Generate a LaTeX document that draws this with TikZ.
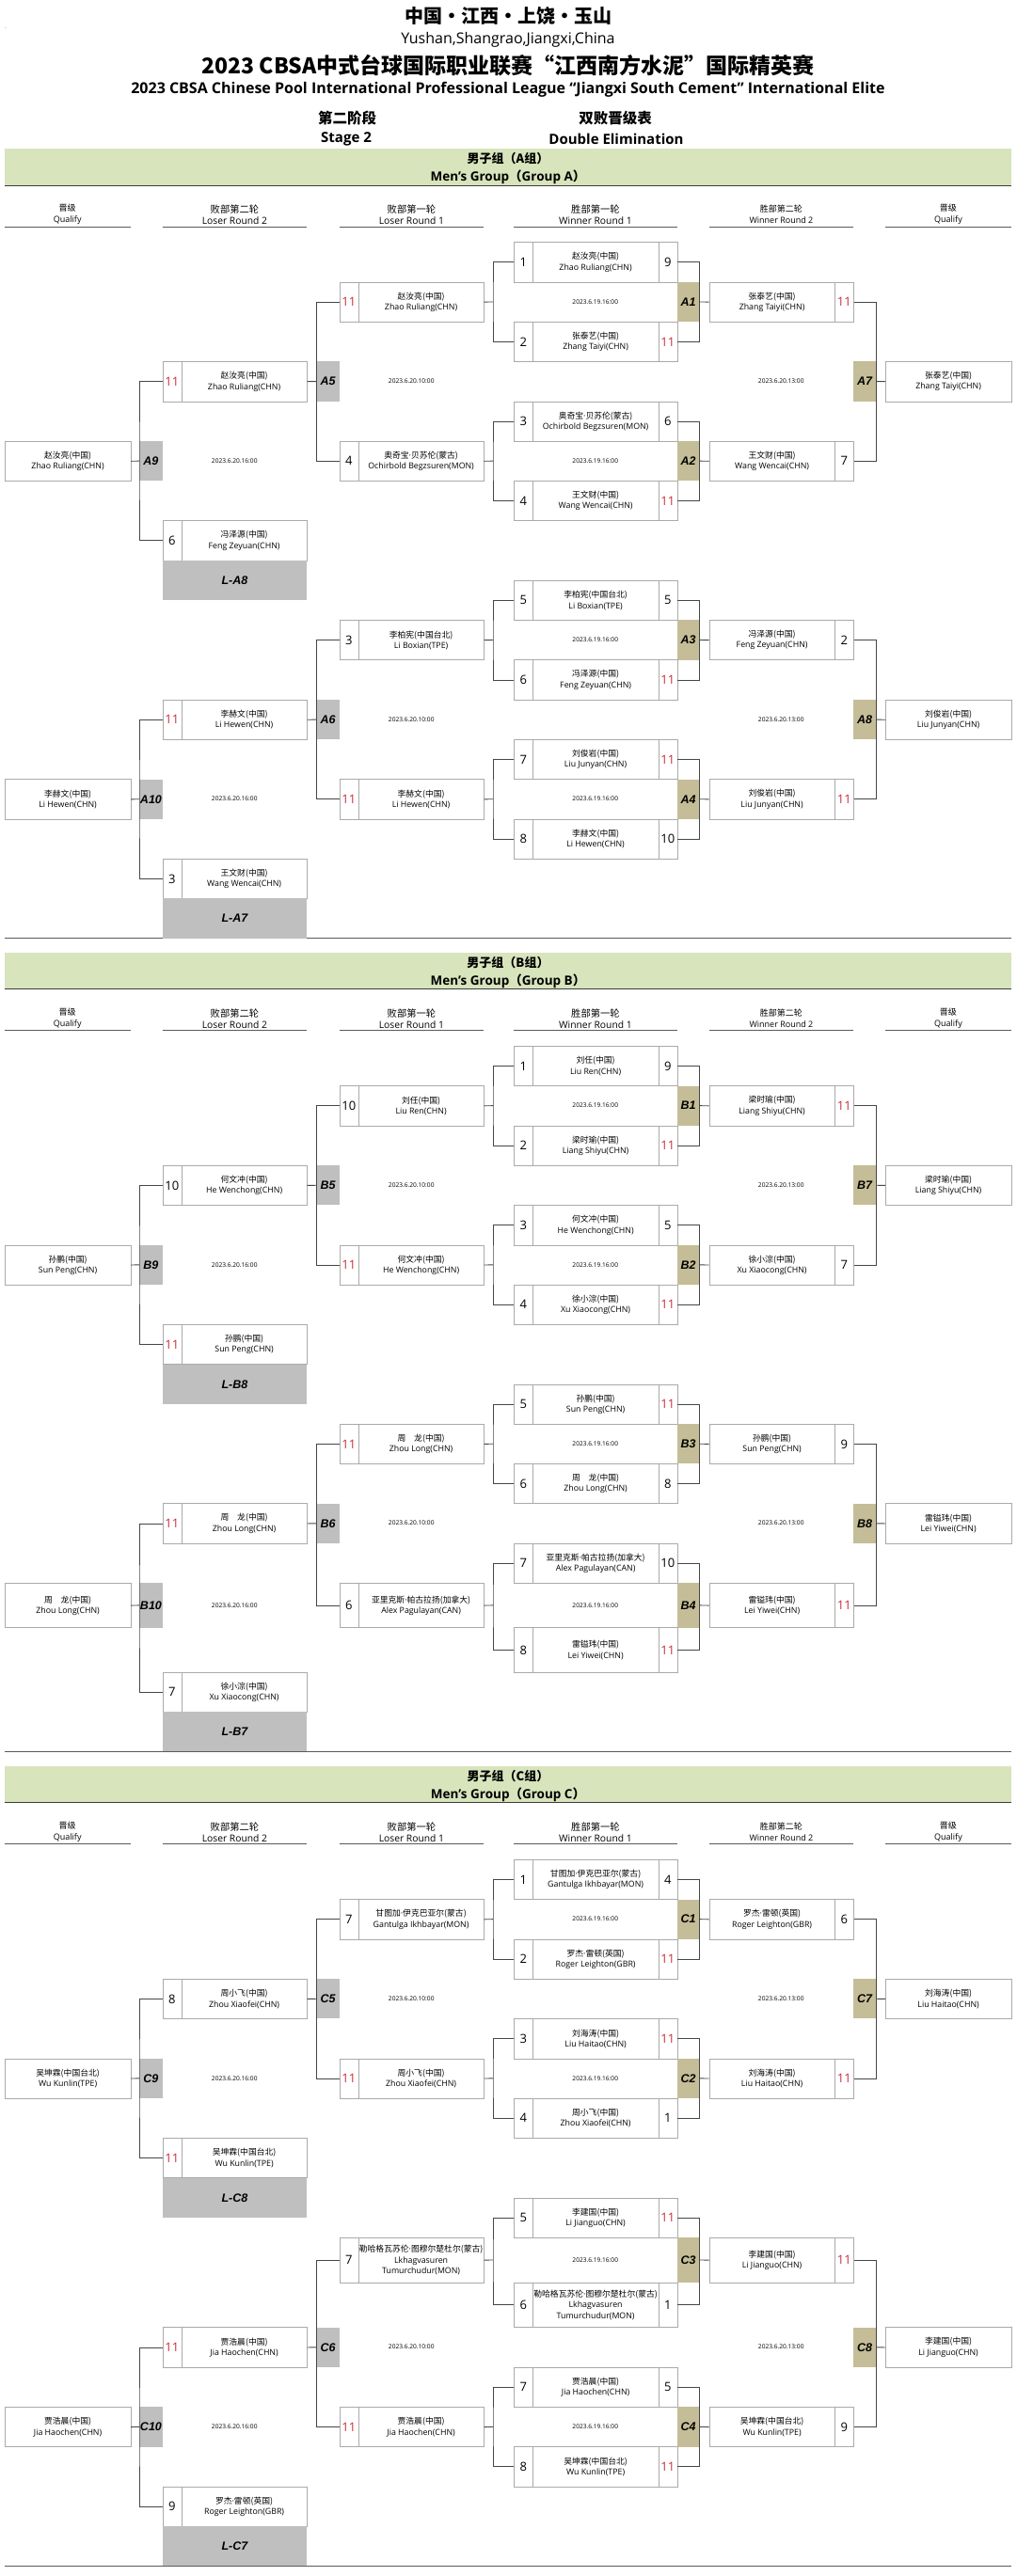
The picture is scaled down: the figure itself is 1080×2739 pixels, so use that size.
\documentclass[tikz,border=0pt]{standalone}
\usepackage{fontspec}
\setmainfont{Open Sans}
\newfontfamily\cjk{Noto Sans CJK SC}
\newfontfamily\tagfont{Liberation Sans}
\definecolor{BandGreen}{RGB}{216,228,188}
\definecolor{BandLine} {RGB}{60,60,60}
\definecolor{TagKhaki} {RGB}{196,189,151}
\definecolor{TagGray}  {RGB}{191,191,191}
\definecolor{CellLine} {RGB}{170,170,170}
\definecolor{LinkGray} {RGB}{70,70,70}
\definecolor{RuleGray} {RGB}{90,90,90}
\definecolor{WinRed}   {RGB}{200,45,55}

\tikzset{
  cellbox/.style={draw=CellLine, line width=0.7pt, inner sep=0pt, align=center,
    font=\fontsize{8.8}{11.3}\selectfont},
  scorebox/.style={cellbox, font=\fontsize{13}{13}\selectfont},
  tagbox/.style={fill=TagKhaki, inner sep=0pt,
    font=\tagfont\bfseries\itshape\fontsize{12.5}{12.5}\selectfont},
  ltagbox/.style={tagbox, fill=TagGray},
  losebox/.style={tagbox, fill=TagGray},
  datetext/.style={inner sep=0pt, font=\fontsize{6.6}{6.6}\selectfont},
  link/.style={draw=LinkGray, line width=0.9pt},
  colhd/.style={inner sep=0pt, align=center, minimum height=26},
  headrule/.style={draw=RuleGray, line width=0.9pt},
  bandrule/.style={draw=BandLine, line width=1pt},
  bandcn/.style={inner sep=0pt, font=\cjk\bfseries\fontsize{13}{13}\selectfont},
  banden/.style={inner sep=0pt, font=\bfseries\fontsize{13.5}{13.5}\selectfont},
}

\newcommand{\pn}[2]{{\cjk #1}\\#2}
\newcommand{\nd}{{\normalfont ·}}
\newcommand{\scr}[1]{\ifnum#1=11\relax\textcolor{WinRed}{#1}\else#1\fi}

% one cell: style, name, left x, row, width, text
\newcommand{\cellat}[6][cellbox]{%
  \pgfmathsetmacro\ctop{rowy(#4)}%
  \pgfmathsetmacro\cht{rowy(#4+1)-rowy(#4)}%
  \node[#1, anchor=north west, minimum width=#5, minimum height=\cht] (#2) at (#3,\ctop) {#6};}
\newcommand{\rowmid}[1]{\pgfmathsetmacro\cmid{(rowy(#1)+rowy(#1+1))/2}}

% winner round 1
\newcommand{\wrmatch}[9]{%
  \cellat[scorebox]{#1as}{546}{#2}{20}{#3}
  \cellat{#1an}{566}{#2}{133.5}{#4}
  \cellat[scorebox]{#1ar}{699.5}{#2}{20}{\scr{#5}}
  \cellat[tagbox]{#1tag}{719.5}{#2+1}{24}{#1}
  \rowmid{#2+1}
  \node[datetext] (#1date) at (632.75,\cmid) {#9};
  \cellat[scorebox]{#1bs}{546}{#2+2}{20}{#6}
  \cellat{#1bn}{566}{#2+2}{133.5}{#7}
  \cellat[scorebox]{#1br}{699.5}{#2+2}{20}{\scr{#8}}
  \coordinate (#1k) at (#1tag.west -| lrjoin);
  \draw[link] (#1as.west) -| (#1k) |- (#1bs.west);
  \draw[link] (#1ar.east) -| (#1tag.east) |- (#1br.east);}

% winner round 2
\newcommand{\wrtwo}[8]{%
  \cellat{#1an}{753.5}{#2}{133.5}{#3}
  \cellat[scorebox]{#1ar}{887}{#2}{20}{\scr{#4}}
  \cellat[tagbox]{#1tag}{907}{#2+2}{24}{#1}
  \cellat{#1q}{941}{#2+2}{133.5}{#7}
  \rowmid{#2+2}
  \node[datetext] (#1date) at (830.25,\cmid) {#8};
  \cellat{#1bn}{753.5}{#2+4}{133.5}{#5}
  \cellat[scorebox]{#1br}{887}{#2+4}{20}{\scr{#6}}
  \draw[link] (#1ar.east) -| (#1tag.east) |- (#1br.east);
  \draw[link] (#1tag.east) -- (#1q.west);}

% loser round 1
\newcommand{\lrone}[7]{%
  \cellat[scorebox]{#1as}{360.5}{#2}{20}{\scr{#3}}
  \cellat{#1an}{380.5}{#2}{133.5}{#4}
  \cellat[ltagbox]{#1tag}{336.5}{#2+2}{24}{#1}
  \rowmid{#2+2}
  \node[datetext] (#1date) at (437.25,\cmid) {#7};
  \cellat[scorebox]{#1bs}{360.5}{#2+4}{20}{\scr{#5}}
  \cellat{#1bn}{380.5}{#2+4}{133.5}{#6}
  \draw[link] (#1as.west) -| (#1tag.west) |- (#1bs.west);}

% loser round 2
\newcommand{\lrtwo}[9]{%
  \cellat[scorebox]{#1as}{172.5}{#2}{20}{\scr{#3}}
  \cellat{#1an}{192.5}{#2}{133.5}{#4}
  \cellat[ltagbox]{#1tag}{148}{#2+2}{24.5}{#1}
  \cellat{#1q}{5}{#2+2}{133.5}{#8}
  \rowmid{#2+2}
  \node[datetext] (#1date) at (249.25,\cmid) {#7};
  \cellat[scorebox]{#1bs}{172.5}{#2+4}{20}{\scr{#5}}
  \cellat{#1bn}{192.5}{#2+4}{133.5}{#6}
  \cellat[losebox]{#1lose}{172.5}{#2+5}{153.5}{#9}
  \draw[link] (#1as.west) -| (#1tag.west) |- (#1bs.west);
  \draw[link] (#1q.east) -- (#1tag.west);}

\newcommand{\colhead}[6]{%
  \node[colhd, font=\fontsize{#4}{12}\selectfont, minimum width=#3, anchor=north west]
    (#1) at (#2,\hdtop) {{\cjk #5}\\#6};
  \draw[headrule] (#1.south west) -- (#1.south east);}

\newcommand{\groupframe}[2]{%
  \node[fill=BandGreen, inner sep=0pt, minimum width=1070, minimum height=39,
    anchor=north west] (band#1) at (4.5,#2) {};
  \draw[bandrule] (band#1.south west) -- (band#1.south east);
  \node[bandcn] (band#1cn) at (540,#2+11) {男子组（#1组）};
  \node[banden] (band#1en) at (540,#2+30.5) {Men's Group{\cjk （}Group #1{\cjk ）}};
  \pgfmathsetmacro\hdtop{#2+57}
  \colhead{#1hql}{4.5}{134}{9}{晋级}{Qualify}
  \colhead{#1hlrb}{172.5}{153.5}{10.3}{败部第二轮}{Loser Round 2}
  \colhead{#1hlra}{360.5}{153.5}{10.3}{败部第一轮}{Loser Round 1}
  \colhead{#1hwra}{546}{173.5}{10.3}{胜部第一轮}{Winner Round 1}
  \colhead{#1hwrb}{753.5}{153.5}{9}{胜部第二轮}{Winner Round 2}
  \colhead{#1hqr}{941}{133.5}{9}{晋级}{Qualify}
  \pgfmathsetmacro\gbot{rowy(17.5)}
  \coordinate (#1botl) at (4.5,\gbot);
  \coordinate (#1botr) at (1074.5,\gbot);
  \draw[headrule] (#1botl) -- (#1botr);}

\begin{document}
\begin{tikzpicture}[x=1pt, y=-1pt,
    declare function={rowy(\k)=\gy+\k*42.3+\xh*min(max(\k-\xr,0),2);}]
  \path[fill=white, use as bounding box] (0,0) rectangle (1080,2739);
  \coordinate (lrjoin) at (524,0);

  \node[inner sep=0pt, font=\fontsize{5}{5}\selectfont] (speck) at (6,30) {.};
  \node[font=\cjk\bfseries\fontsize{20}{20}\selectfont] (titleplace) at (540,17) {中国•江西•上饶•玉山};
  \node[font=\fontsize{16}{16}\selectfont] (titlecity) at (540,42) {Yushan,Shangrao,Jiangxi,China};
  \node[font=\cjk\bfseries\fontsize{23}{23}\selectfont] (titlecn) at (540,70)
    {2023 CBSA中式台球国际职业联赛“江西南方水泥”国际精英赛};
  \node[font=\bfseries\fontsize{16}{16}\selectfont] (titleen) at (540,95)
    {2023 CBSA Chinese Pool International Professional League “Jiangxi South Cement” International Elite};
  \node[font=\cjk\bfseries\fontsize{15.5}{15.5}\selectfont] (stagecn) at (369,126) {第二阶段};
  \node[font=\bfseries\fontsize{15}{15}\selectfont] (stageen) at (368,147.5) {Stage 2};
  \node[font=\cjk\bfseries\fontsize{15.5}{15.5}\selectfont] (typecn) at (654,126) {双败晋级表};
  \node[font=\bfseries\fontsize{15}{15}\selectfont] (typeen) at (655,147.5) {Double Elimination};

  % group A
  \def\gy{257.3}\def\xr{100}\def\xh{0}
  \groupframe{A}{158}
  \wrmatch{A1}{0}{1}{\pn{赵汝亮(中国)}{Zhao Ruliang(CHN)}}{9}{2}{\pn{张泰艺(中国)}{Zhang Taiyi(CHN)}}{11}{2023.6.19.16:00}
  \wrmatch{A2}{4}{3}{\pn{奥奇宝\nd 贝苏伦(蒙古)}{Ochirbold Begzsuren(MON)}}{6}{4}{\pn{王文财(中国)}{Wang Wencai(CHN)}}{11}{2023.6.19.16:00}
  \wrmatch{A3}{8.5}{5}{\pn{李柏宪(中国台北)}{Li Boxian(TPE)}}{5}{6}{\pn{冯泽源(中国)}{Feng Zeyuan(CHN)}}{11}{2023.6.19.16:00}
  \wrmatch{A4}{12.5}{7}{\pn{刘俊岩(中国)}{Liu Junyan(CHN)}}{11}{8}{\pn{李赫文(中国)}{Li Hewen(CHN)}}{10}{2023.6.19.16:00}
  \wrtwo{A7}{1}{\pn{张泰艺(中国)}{Zhang Taiyi(CHN)}}{11}{\pn{王文财(中国)}{Wang Wencai(CHN)}}{7}{\pn{张泰艺(中国)}{Zhang Taiyi(CHN)}}{2023.6.20.13:00}
  \wrtwo{A8}{9.5}{\pn{冯泽源(中国)}{Feng Zeyuan(CHN)}}{2}{\pn{刘俊岩(中国)}{Liu Junyan(CHN)}}{11}{\pn{刘俊岩(中国)}{Liu Junyan(CHN)}}{2023.6.20.13:00}
  \lrone{A5}{1}{11}{\pn{赵汝亮(中国)}{Zhao Ruliang(CHN)}}{4}{\pn{奥奇宝\nd 贝苏伦(蒙古)}{Ochirbold Begzsuren(MON)}}{2023.6.20.10:00}
  \lrone{A6}{9.5}{3}{\pn{李柏宪(中国台北)}{Li Boxian(TPE)}}{11}{\pn{李赫文(中国)}{Li Hewen(CHN)}}{2023.6.20.10:00}
  \lrtwo{A9}{3}{11}{\pn{赵汝亮(中国)}{Zhao Ruliang(CHN)}}{6}{\pn{冯泽源(中国)}{Feng Zeyuan(CHN)}}{2023.6.20.16:00}{\pn{赵汝亮(中国)}{Zhao Ruliang(CHN)}}{L-A8}
  \lrtwo{A10}{11.5}{11}{\pn{李赫文(中国)}{Li Hewen(CHN)}}{3}{\pn{王文财(中国)}{Wang Wencai(CHN)}}{2023.6.20.16:00}{\pn{李赫文(中国)}{Li Hewen(CHN)}}{L-A7}

  % group B
  \def\gy{1112}\def\xr{13.5}\def\xh{5}
  \groupframe{B}{1012.5}
  \wrmatch{B1}{0}{1}{\pn{刘任(中国)}{Liu Ren(CHN)}}{9}{2}{\pn{梁时瑜(中国)}{Liang Shiyu(CHN)}}{11}{2023.6.19.16:00}
  \wrmatch{B2}{4}{3}{\pn{何文冲(中国)}{He Wenchong(CHN)}}{5}{4}{\pn{徐小淙(中国)}{Xu Xiaocong(CHN)}}{11}{2023.6.19.16:00}
  \wrmatch{B3}{8.5}{5}{\pn{孙鹏(中国)}{Sun Peng(CHN)}}{11}{6}{\pn{周　龙(中国)}{Zhou Long(CHN)}}{8}{2023.6.19.16:00}
  \wrmatch{B4}{12.5}{7}{\pn{亚里克斯\nd 帕古拉扬(加拿大)}{Alex Pagulayan(CAN)}}{10}{8}{\pn{雷镒玮(中国)}{Lei Yiwei(CHN)}}{11}{2023.6.19.16:00}
  \wrtwo{B7}{1}{\pn{梁时瑜(中国)}{Liang Shiyu(CHN)}}{11}{\pn{徐小淙(中国)}{Xu Xiaocong(CHN)}}{7}{\pn{梁时瑜(中国)}{Liang Shiyu(CHN)}}{2023.6.20.13:00}
  \wrtwo{B8}{9.5}{\pn{孙鹏(中国)}{Sun Peng(CHN)}}{9}{\pn{雷镒玮(中国)}{Lei Yiwei(CHN)}}{11}{\pn{雷镒玮(中国)}{Lei Yiwei(CHN)}}{2023.6.20.13:00}
  \lrone{B5}{1}{10}{\pn{刘任(中国)}{Liu Ren(CHN)}}{11}{\pn{何文冲(中国)}{He Wenchong(CHN)}}{2023.6.20.10:00}
  \lrone{B6}{9.5}{11}{\pn{周　龙(中国)}{Zhou Long(CHN)}}{6}{\pn{亚里克斯\nd 帕古拉扬(加拿大)}{Alex Pagulayan(CAN)}}{2023.6.20.10:00}
  \lrtwo{B9}{3}{10}{\pn{何文冲(中国)}{He Wenchong(CHN)}}{11}{\pn{孙鹏(中国)}{Sun Peng(CHN)}}{2023.6.20.16:00}{\pn{孙鹏(中国)}{Sun Peng(CHN)}}{L-B8}
  \lrtwo{B10}{11.5}{11}{\pn{周　龙(中国)}{Zhou Long(CHN)}}{7}{\pn{徐小淙(中国)}{Xu Xiaocong(CHN)}}{2023.6.20.16:00}{\pn{周　龙(中国)}{Zhou Long(CHN)}}{L-B7}

  % group C
  \def\gy{1977}\def\xr{9.5}\def\xh{5.5}
  \groupframe{C}{1877.5}
  \wrmatch{C1}{0}{1}{\pn{甘图加\nd 伊克巴亚尔(蒙古)}{Gantulga Ikhbayar(MON)}}{4}{2}{\pn{罗杰\nd 雷顿(英国)}{Roger Leighton(GBR)}}{11}{2023.6.19.16:00}
  \wrmatch{C2}{4}{3}{\pn{刘海涛(中国)}{Liu Haitao(CHN)}}{11}{4}{\pn{周小飞(中国)}{Zhou Xiaofei(CHN)}}{1}{2023.6.19.16:00}
  \wrmatch{C3}{8.5}{5}{\pn{李建国(中国)}{Li Jianguo(CHN)}}{11}{6}{\pn{勒哈格瓦苏伦\nd 图穆尔楚杜尔(蒙古)}{Lkhagvasuren\\Tumurchudur(MON)}}{1}{2023.6.19.16:00}
  \wrmatch{C4}{12.5}{7}{\pn{贾浩晨(中国)}{Jia Haochen(CHN)}}{5}{8}{\pn{吴坤霖(中国台北)}{Wu Kunlin(TPE)}}{11}{2023.6.19.16:00}
  \wrtwo{C7}{1}{\pn{罗杰\nd 雷顿(英国)}{Roger Leighton(GBR)}}{6}{\pn{刘海涛(中国)}{Liu Haitao(CHN)}}{11}{\pn{刘海涛(中国)}{Liu Haitao(CHN)}}{2023.6.20.13:00}
  \wrtwo{C8}{9.5}{\pn{李建国(中国)}{Li Jianguo(CHN)}}{11}{\pn{吴坤霖(中国台北)}{Wu Kunlin(TPE)}}{9}{\pn{李建国(中国)}{Li Jianguo(CHN)}}{2023.6.20.13:00}
  \lrone{C5}{1}{7}{\pn{甘图加\nd 伊克巴亚尔(蒙古)}{Gantulga Ikhbayar(MON)}}{11}{\pn{周小飞(中国)}{Zhou Xiaofei(CHN)}}{2023.6.20.10:00}
  \lrone{C6}{9.5}{7}{\pn{勒哈格瓦苏伦\nd 图穆尔楚杜尔(蒙古)}{Lkhagvasuren\\Tumurchudur(MON)}}{11}{\pn{贾浩晨(中国)}{Jia Haochen(CHN)}}{2023.6.20.10:00}
  \lrtwo{C9}{3}{8}{\pn{周小飞(中国)}{Zhou Xiaofei(CHN)}}{11}{\pn{吴坤霖(中国台北)}{Wu Kunlin(TPE)}}{2023.6.20.16:00}{\pn{吴坤霖(中国台北)}{Wu Kunlin(TPE)}}{L-C8}
  \lrtwo{C10}{11.5}{11}{\pn{贾浩晨(中国)}{Jia Haochen(CHN)}}{9}{\pn{罗杰\nd 雷顿(英国)}{Roger Leighton(GBR)}}{2023.6.20.16:00}{\pn{贾浩晨(中国)}{Jia Haochen(CHN)}}{L-C7}

  \foreach \g in {A,B,C} {
    \draw[link] (\g1tag.east) -- (\g7an.west);
    \draw[link] (\g2tag.east) -- (\g7bn.west);
    \draw[link] (\g3tag.east) -- (\g8an.west);
    \draw[link] (\g4tag.east) -- (\g8bn.west);
    \draw[link] (\g5an.east) -- (\g1k);
    \draw[link] (\g5bn.east) -- (\g2k);
    \draw[link] (\g6an.east) -- (\g3k);
    \draw[link] (\g6bn.east) -- (\g4k);
    \draw[link] (\g9an.east) -- (\g5tag.west);
    \draw[link] (\g10an.east) -- (\g6tag.west);
  }
\end{tikzpicture}
\end{document}
